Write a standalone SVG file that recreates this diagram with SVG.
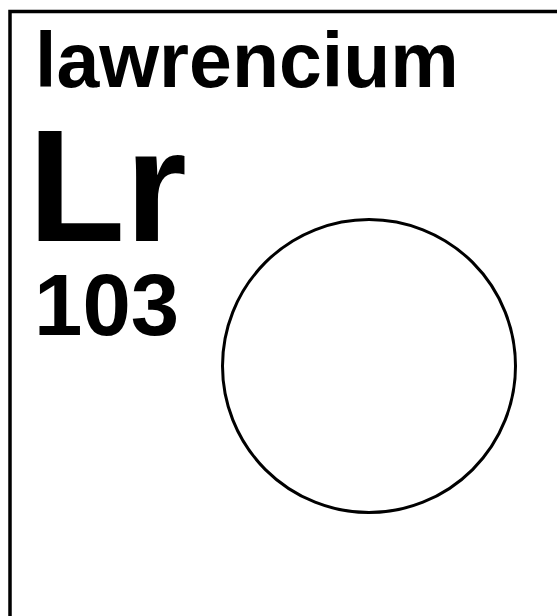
<svg xmlns="http://www.w3.org/2000/svg" width="557" height="616" viewBox="0 0 557 616">
<style>
text{font-family:"Liberation Sans",Arial,sans-serif;font-weight:bold;fill:#000}
</style>
<rect x="0" y="0" width="557" height="616" fill="#fff"/>
<g id="frame"><rect x="10" y="11.5" width="600" height="700" fill="none" stroke="#000" stroke-width="3.5"/></g>
<g id="name"><text x="35" y="87" font-size="77">lawrencium</text></g>
<g id="symbol"><text x="28" y="241" font-size="159">Lr</text></g>
<g id="number"><text x="34" y="335" font-size="87">103</text></g>
<g id="circle"><circle cx="369" cy="366" r="146.5" fill="none" stroke="#000" stroke-width="3"/></g>
</svg>
